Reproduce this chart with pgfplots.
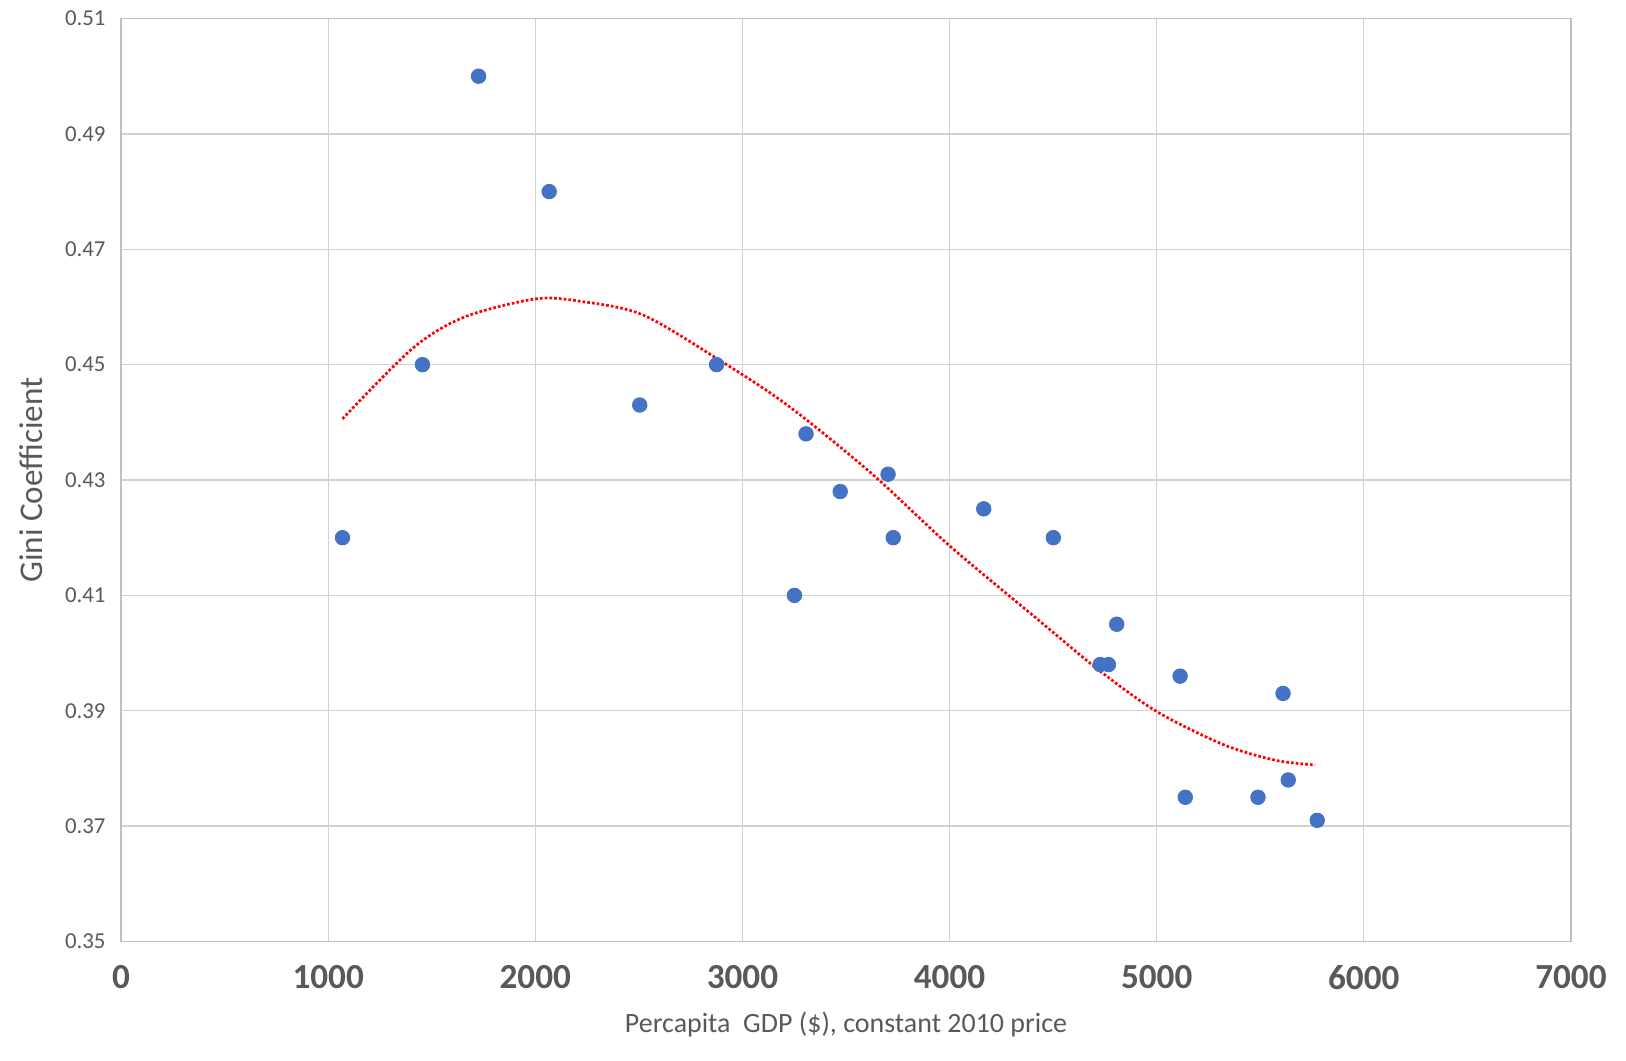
\documentclass[border={6bp 8bp 6bp 2bp}]{standalone}
\usepackage{pgfplots}
\pgfplotsset{compat=1.18}
\usepackage{fontspec}
\setmainfont{Carlito}
\definecolor{dot}{RGB}{68,114,196}
\definecolor{txt}{RGB}{89,89,89}
\begin{document}
\begin{tikzpicture}
\begin{axis}[
 scale only axis, width=697.5bp, height=444bp,
 xmin=0, xmax=7000, ymin=0.35, ymax=0.51,
 xtick={0,1000,...,7000}, ytick={0.35,0.37,...,0.51},
 grid=major, major grid style={draw=black!18, line width=0.6pt},
 axis line style={draw=black!25, line width=0.6pt},
 tick style={draw=none},
 /pgf/number format/assume math mode=true,
 x tick label style={font=\fontsize{17}{20}\selectfont\bfseries, text=txt, /pgf/number format/1000 sep={}, yshift=-8bp},
 y tick label style={font=\fontsize{11}{13}\selectfont, text=txt, xshift=-4bp, /pgf/number format/fixed, /pgf/number format/precision=2, /pgf/number format/fixed zerofill},
 xlabel={Percapita\ \ GDP (\$), constant 2010 price},
 ylabel={Gini Coefficient},
 xlabel style={font=\fontsize{13.5}{16}\selectfont, text=txt, yshift=-4bp},
 ylabel style={font=\fontsize{16}{19}\selectfont, text=txt, yshift=4bp},
]
\addplot[only marks, mark=*, mark size=3.5bp, mark options={fill=dot, draw=dot}] coordinates {
(1069,0.420)(1455,0.450)(1726,0.500)(2067,0.480)(2504,0.443)(2875,0.450)
(3251,0.410)(3307,0.438)(3472,0.428)(3703,0.431)(3728,0.420)(4165,0.425)
(4501,0.420)(4727,0.398)(4767,0.398)(4807,0.405)(5113,0.396)(5138,0.375)
(5489,0.375)(5610,0.393)(5635,0.378)(5775,0.371)};
\addplot[red, densely dotted, line width=1.3pt, smooth] coordinates {
(1069,0.4406)(1410,0.4529)(1661,0.4583)(2002,0.4614)(2213,0.4610)(2514,0.4587)
(2875,0.4511)(3216,0.4430)(3618,0.4313)(4000,0.4186)(4420,0.4060)(4722,0.3970)
(5003,0.3898)(5324,0.3841)(5575,0.3814)(5765,0.3806)};
\end{axis}
\end{tikzpicture}
\end{document}
